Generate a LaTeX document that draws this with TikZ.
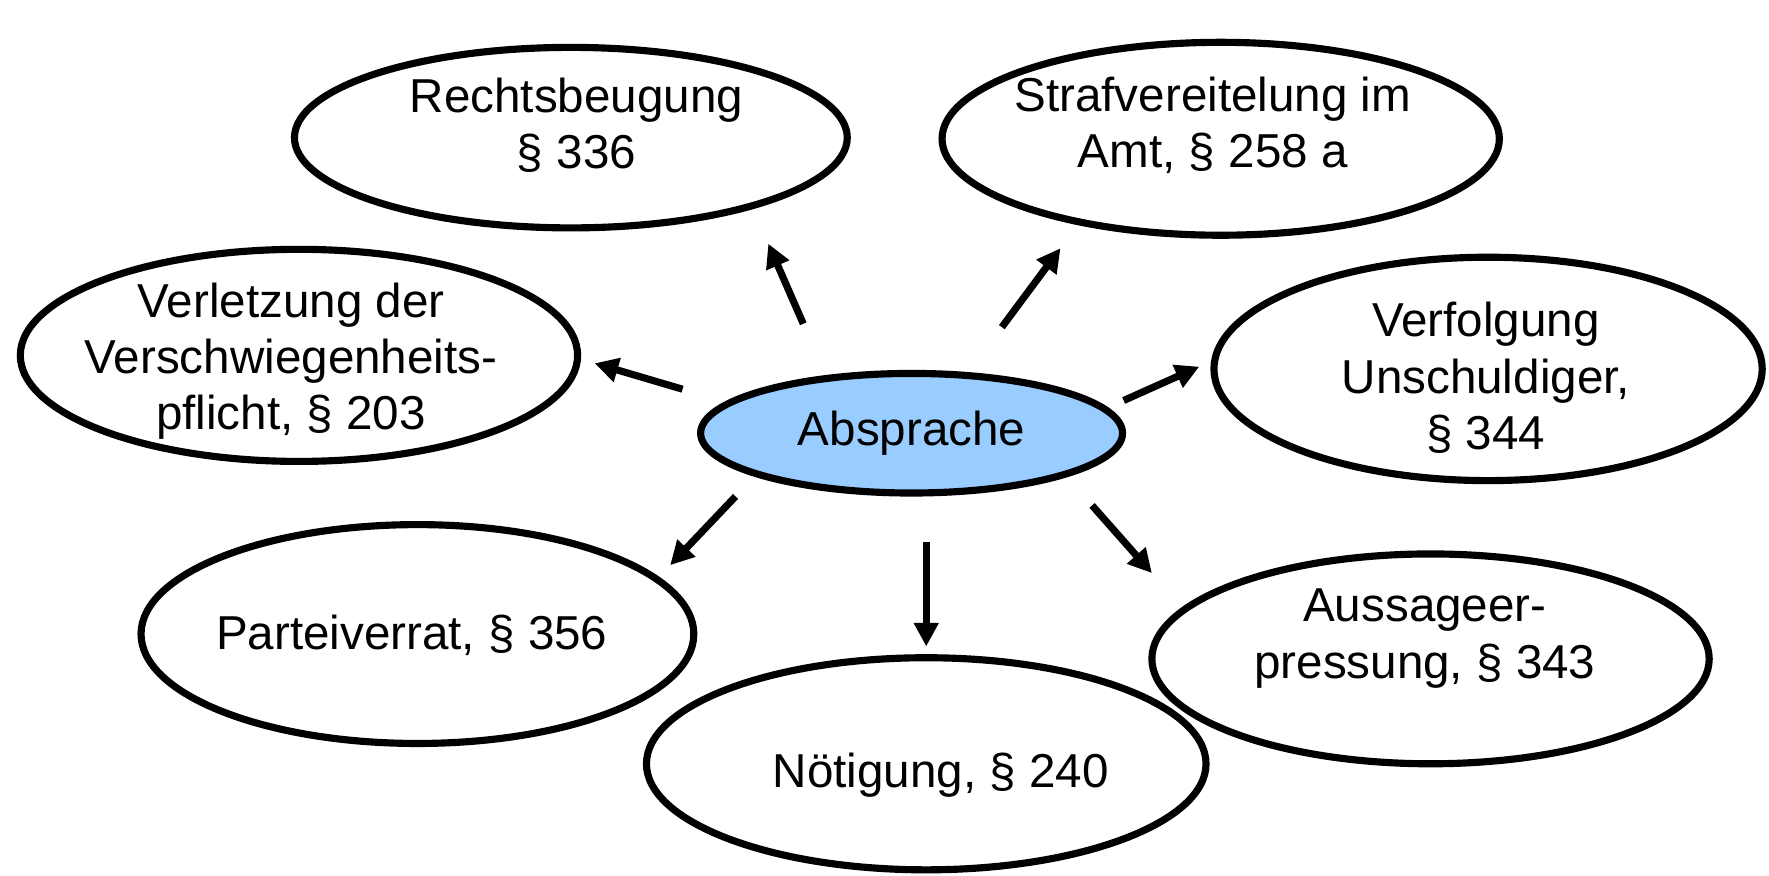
\documentclass[tikz,border=0pt]{standalone}
\usepackage{fontspec}
\setmainfont{Liberation Sans}
\usetikzlibrary{shapes.geometric,arrows.meta}
\definecolor{absblue}{RGB}{153,204,255}
\begin{document}
\begin{tikzpicture}[x=0.1mm, y=-0.1mm,
    bubble/.style={ellipse, draw, line width=1.8pt, inner sep=0pt},
    txt/.style={align=center, inner sep=0pt, font=\fontsize{12}{14.2}\selectfont},
    arr/.style={line width=1.8pt, -{Triangle[length=2.1mm, width=2.1mm]}}]

    \useasboundingbox (0,0) rectangle (1568,776);

    % centre
    \node[bubble, fill=absblue, minimum width=3.74cm, minimum height=1.06cm, txt] (abs) at (808,384) {Absprache};

    % offences round it
    \node[bubble, minimum width=4.9cm, minimum height=1.6cm] (rb) at (506,122) {};
    \node[bubble, minimum width=4.94cm, minimum height=1.71cm] (sv) at (1082,123) {};
    \node[bubble, minimum width=4.94cm, minimum height=1.88cm] (vs) at (265,315) {};
    \node[bubble, minimum width=4.86cm, minimum height=1.98cm] (vu) at (1319,327) {};
    \node[bubble, minimum width=4.9cm, minimum height=1.94cm] (pv) at (370,562) {};
    \node[bubble, minimum width=4.94cm, minimum height=1.86cm] (ae) at (1268,584) {};
    \node[bubble, minimum width=4.96cm, minimum height=1.88cm] (nt) at (821,677) {};

    % texts
    \node[txt] (rbt) at (511,111) {Rechtsbeugung\\\S{} 336};
    \node[txt] (svt) at (1075,111) {Strafvereitelung im\\Amt, \S{} 258 a};
    \node[txt] (vst) at (258,320) {Verletzung der\\Verschwiegenheits-\\pflicht, \S{} 203};
    \node[txt] (vut) at (1317,335) {Verfolgung\\Unschuldiger,\\\S{} 344};
    \node[txt] (pvt) at (365,563) {Parteiverrat, \S{} 356};
    \node[txt] (aet) at (1263,566) {Aussageer-\\pressung, \S{} 343};
    \node[txt] (ntt) at (834,687) {Nötigung, \S{} 240};

    % arrow ends
    \coordinate (rb-s) at (712,287);
    \coordinate (rb-e) at (681,216);
    \coordinate (sv-s) at (888,290);
    \coordinate (sv-e) at (940,220);
    \coordinate (vs-s) at (605,345);
    \coordinate (vs-e) at (527,322);
    \coordinate (vu-s) at (996,355);
    \coordinate (vu-e) at (1063,325);
    \coordinate (pv-s) at (652,440);
    \coordinate (pv-e) at (594,501);
    \coordinate (nt-s) at (821,480);
    \coordinate (nt-e) at (821,573);
    \coordinate (ae-s) at (968,448);
    \coordinate (ae-e) at (1021,508);

    \draw[arr] (rb-s) -- (rb-e);
    \draw[arr] (sv-s) -- (sv-e);
    \draw[arr] (vs-s) -- (vs-e);
    \draw[arr] (vu-s) -- (vu-e);
    \draw[arr] (pv-s) -- (pv-e);
    \draw[arr] (nt-s) -- (nt-e);
    \draw[arr] (ae-s) -- (ae-e);

\end{tikzpicture}
\end{document}
